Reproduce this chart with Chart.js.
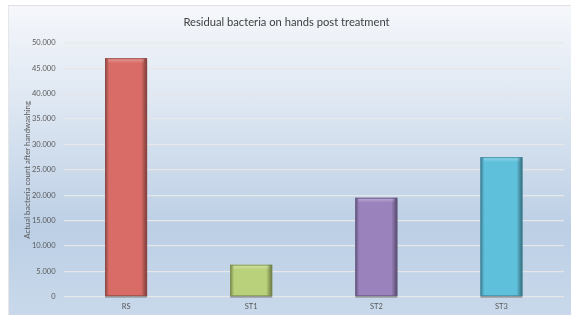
<!DOCTYPE html>
<html>
<head>
<meta charset="utf-8">
<script src="https://cdn.jsdelivr.net/npm/chart.js@4/dist/chart.umd.min.js"></script>
<style>
  html, body { margin: 0; padding: 0; background: #fff; }
  #panel {
    position: absolute; left: 8px; top: 5px; width: 563px; height: 310px;
    background: linear-gradient(to bottom, #f5f7fb 0%, #dbe5f1 35%, #bccfe5 72%, #c9d9eb 100%);
    border-top: 1px solid #e0e0e0; border-left: 1px solid #e6e6e6;
    box-sizing: border-box;
  }
</style>
</head>
<body>
<div id="panel"><canvas id="chart"></canvas></div>
<script>
// Chart data
const categories = ['RS', 'ST1', 'ST2', 'ST3'];
const bacteriaCounts = [47000, 6300, 19500, 27500];
const barColors = ['#d96c66', '#b9d17a', '#9a83bd', '#5fc0db'];
const edgeColors = ['#8c4744', '#7b8c4f', '#655683', '#3e869c'];
const yTicks = [0, 5000, 10000, 15000, 20000, 25000, 30000, 35000, 40000, 45000, 50000];

const fmt = v => String(v).replace(/\B(?=(\d{3})+(?!\d))/g, '.');

// simple bevel shading on top of each bar
const bevel = {
    id: 'bevel',
    afterDatasetsDraw: (chart) => {
        const ctx = chart.ctx;
        chart.getDatasetMeta(0).data.forEach((bar, i) => {
            const p = bar.getProps(['x', 'y', 'base', 'width'], true);
            const l = p.x - p.width / 2, r = p.x + p.width / 2;
            const h = p.base - p.y;
            ctx.save();
            // left edge
            let g = ctx.createLinearGradient(l, 0, l + 4, 0);
            g.addColorStop(0, 'rgba(0,0,0,0.35)');
            g.addColorStop(1, 'rgba(0,0,0,0)');
            ctx.fillStyle = g;
            ctx.fillRect(l, p.y, 4, h);
            // right edge
            g = ctx.createLinearGradient(r - 6, 0, r, 0);
            g.addColorStop(0, 'rgba(0,0,0,0)');
            g.addColorStop(1, 'rgba(0,0,0,0.45)');
            ctx.fillStyle = g;
            ctx.fillRect(r - 6, p.y, 6, h);
            // top highlight
            g = ctx.createLinearGradient(0, p.y, 0, p.y + 5);
            g.addColorStop(0, 'rgba(255,255,255,0.35)');
            g.addColorStop(1, 'rgba(255,255,255,0)');
            ctx.fillStyle = g;
            ctx.fillRect(l + 3, p.y + 1, p.width - 6, 5);
            // outline
            ctx.strokeStyle = edgeColors[i];
            ctx.globalAlpha = 0.7;
            ctx.lineWidth = 1;
            ctx.strokeRect(l + 0.5, p.y + 0.5, p.width - 1, h - 1);
            // baseline shadow
            ctx.globalAlpha = 1;
            ctx.fillStyle = 'rgba(90,90,90,0.6)';
            ctx.fillRect(l, p.base, p.width, 1.5);
            ctx.restore();
        });
    }
};

new Chart(document.getElementById('chart'), {
    type: 'bar',
    data: {
        labels: categories,
        datasets: [{
            data: bacteriaCounts,
            backgroundColor: barColors,
            borderWidth: 0,
            categoryPercentage: 1,
            barPercentage: 0.336
        }]
    },
    plugins: [bevel],
    options: {
        responsive: true,
        maintainAspectRatio: false,
        animation: false,
        layout: { padding: { left: 0, right: 7, top: 0, bottom: 0 } },
        plugins: {
            legend: { display: false },
            tooltip: { enabled: false },
            title: {
                display: true,
                text: 'Residual bacteria on hands post treatment',
                color: '#404040',
                font: { family: 'Lato', size: 11.2, weight: 'normal' },
                padding: { top: 10, bottom: 13.5 }
            }
        },
        scales: {
            x: {
                grid: { display: false, drawTicks: false },
                border: { display: false },
                ticks: { color: '#595959', font: { family: 'Lato', size: 7.5 }, padding: 5 },
                afterFit: (s) => { s.height = 18.3; }
            },
            y: {
                min: 0,
                max: 50000,
                afterBuildTicks: (s) => { s.ticks = yTicks.map(v => ({ value: v })); },
                grid: { color: 'rgba(232,232,232,0.95)', lineWidth: 1.2, drawTicks: false },
                border: { display: false },
                ticks: { color: '#595959', font: { family: 'Lato', size: 7.5 }, padding: 8, callback: (v) => fmt(v) },
                title: {
                    display: true,
                    text: 'Actual bacteria count after handwashing',
                    color: '#595959',
                    font: { family: 'Lato', size: 7.8 },
                    padding: { top: 14, bottom: 4 }
                },
                afterFit: (s) => { s.width = 54.5; }
            }
        }
    }
});
</script>
</body>
</html>
